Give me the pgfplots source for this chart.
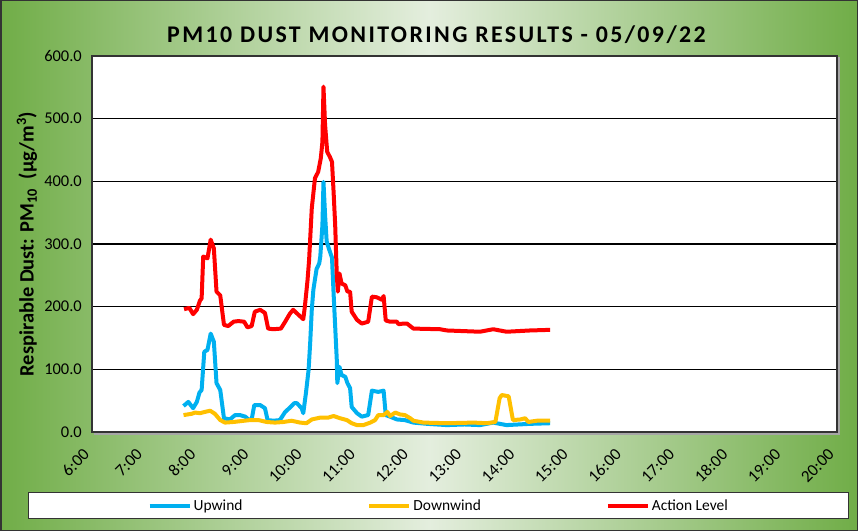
\documentclass[border=0pt]{standalone}
\usepackage{fontspec}
\setmainfont{Carlito}
\newfontfamily\titlefont[LetterSpace=10]{Carlito}
\usepackage{pgfplots}
\pgfplotsset{compat=1.18}
\definecolor{bggreen}{RGB}{112,173,71}
\definecolor{bglight}{RGB}{228,238,222}
\definecolor{upw}{RGB}{0,176,240}
\definecolor{dnw}{RGB}{255,192,0}
\definecolor{act}{RGB}{255,0,0}
\begin{document}
\begin{tikzpicture}
\useasboundingbox (0,0) rectangle (858bp,531bp);
\shade[left color=bggreen, right color=bggreen, middle color=bglight] (0,0) rectangle (858bp,531bp);
\draw[black!80, line width=1.5bp] (0.75bp,0.75bp) rectangle (857.25bp,530.25bp);
\fill[black!35] (94bp,96bp) rectangle (840bp,474bp);
\node[font=\titlefont\bfseries\fontsize{24}{28}\selectfont] at (436.5bp,496bp) {PM10 DUST MONITORING RESULTS - 05/09/22};
\begin{axis}[
  at={(92bp,99bp)}, anchor=south west,
  width=745bp, height=376bp, scale only axis,
  xmin=6, xmax=20, ymin=0, ymax=600,
  xtick={6,...,20},
  xticklabels={6:00,7:00,8:00,9:00,10:00,11:00,12:00,13:00,14:00,15:00,16:00,17:00,18:00,19:00,20:00},
  ytick={0,100,...,600},
  /pgf/number format/fixed, /pgf/number format/fixed zerofill, /pgf/number format/precision=1,
  /pgf/number format/assume math mode=true,
  yticklabel style={font=\fontsize{16.5}{19}\selectfont, inner sep=2bp},
  xticklabel style={font=\fontsize{17}{20}\selectfont, xshift=-5bp, rotate=45, anchor=east, inner sep=1bp},
  xticklabel shift=19bp,
  yticklabel shift=8bp,
  major tick length=0pt,
  ymajorgrids, xmajorgrids=false,
  major grid style={black, line width=1.3bp},
  axis line style={draw=black!80, line width=2bp},
  axis background/.style={fill=white},
  ylabel={Respirable Dust: PM\textsubscript{10}~~(µg/m\textsuperscript{3})},
  ylabel style={at={(-0.0872,0.5)}, anchor=center, font=\bfseries\fontsize{20.5}{24}\selectfont},
  legend columns=3,
  legend style={at={(0.4655,-0.1955)}, anchor=center, draw=black!80, line width=1.2bp, fill=white,
    inner xsep=119bp, inner ysep=5bp, font=\fontsize{15.5}{18}\selectfont,
    /tikz/every even column/.append style={column sep=123bp}},
  legend image code/.code={\draw[#1] (0bp,0bp) -- (40bp,0bp);},
  every axis plot/.append style={line width=4bp, line join=round, no markers},
]
\addplot[upw] table {
7.72 41.5
7.81 48
7.90 38
7.97 48
8.02 63
8.06 67
8.11 128
8.17 131
8.23 157
8.29 144
8.34 78
8.41 67
8.48 22
8.59 20
8.69 27
8.78 27
8.88 24.5
8.94 20
9.00 20
9.05 43
9.16 43
9.25 38
9.30 19
9.41 18
9.53 19
9.63 32
9.72 39
9.80 46
9.85 46
9.94 38
9.97 30
10.02 62
10.07 99
10.10 142
10.13 195
10.16 227
10.22 260
10.27 269
10.29 280
10.33 330
10.35 399
10.38 346
10.41 304
10.45 293
10.51 278
10.54 221
10.60 115
10.61 78
10.65 104
10.69 91
10.76 88
10.80 78
10.85 70
10.88 40
10.98 30
11.07 24.5
11.19 27
11.26 66
11.38 64
11.48 66
11.52 27
11.60 24.5
11.73 20
11.88 19
12.04 15
12.30 13
12.67 11
13.00 12
13.29 11
13.54 15
13.79 11
14.23 13
14.61 14
};
\addlegendentry{Upwind}
\addplot[dnw] table {
7.72 27
7.87 29
7.94 31
8.03 30
8.12 32
8.22 34
8.31 29
8.41 19
8.50 15
8.66 16
8.81 17.5
8.97 19
9.13 19
9.28 16
9.44 15
9.60 16
9.75 18
9.91 15
10.03 14
10.13 20
10.29 23
10.44 23
10.54 25.5
10.66 22
10.79 19
10.88 14
10.98 11
11.10 11
11.23 15
11.32 19
11.38 27
11.48 27
11.55 32
11.60 25.5
11.70 31
11.79 28
11.88 27
11.98 22
12.04 18
12.23 15
12.67 14
13.17 15
13.42 14
13.58 16
13.66 54
13.70 59
13.83 57
13.91 19
14.05 20
14.14 22
14.20 16
14.36 18
14.61 18
};
\addlegendentry{Downwind}
\addplot[act] table {
7.73 196
7.83 198
7.90 188
7.97 195
8.03 210
8.06 213
8.09 280
8.17 277
8.23 307
8.29 293
8.34 224
8.41 218
8.48 171
8.56 169
8.66 176
8.75 177
8.86 176
8.92 167
9.00 169
9.06 192
9.16 195
9.25 190
9.31 165
9.41 164
9.55 165
9.63 176
9.72 189
9.78 195
9.88 187
9.97 180
10.00 200
10.05 242
10.08 275
10.13 357
10.19 405
10.25 415
10.30 437
10.33 463
10.35 551
10.38 490
10.42 447
10.47 439
10.51 431
10.54 383
10.57 330
10.60 250
10.62 224
10.65 253
10.69 237
10.76 234
10.80 224
10.85 224
10.88 192
10.98 179
11.07 173
11.19 176
11.26 216
11.35 215
11.45 211
11.48 217
11.52 178
11.60 176
11.73 176
11.76 172
11.85 173
11.92 173
12.04 165
12.54 164
12.67 162
13.29 160
13.54 164
13.79 160
14.23 162
14.61 163
};
\addlegendentry{Action Level}
\end{axis}
\end{tikzpicture}
\end{document}
